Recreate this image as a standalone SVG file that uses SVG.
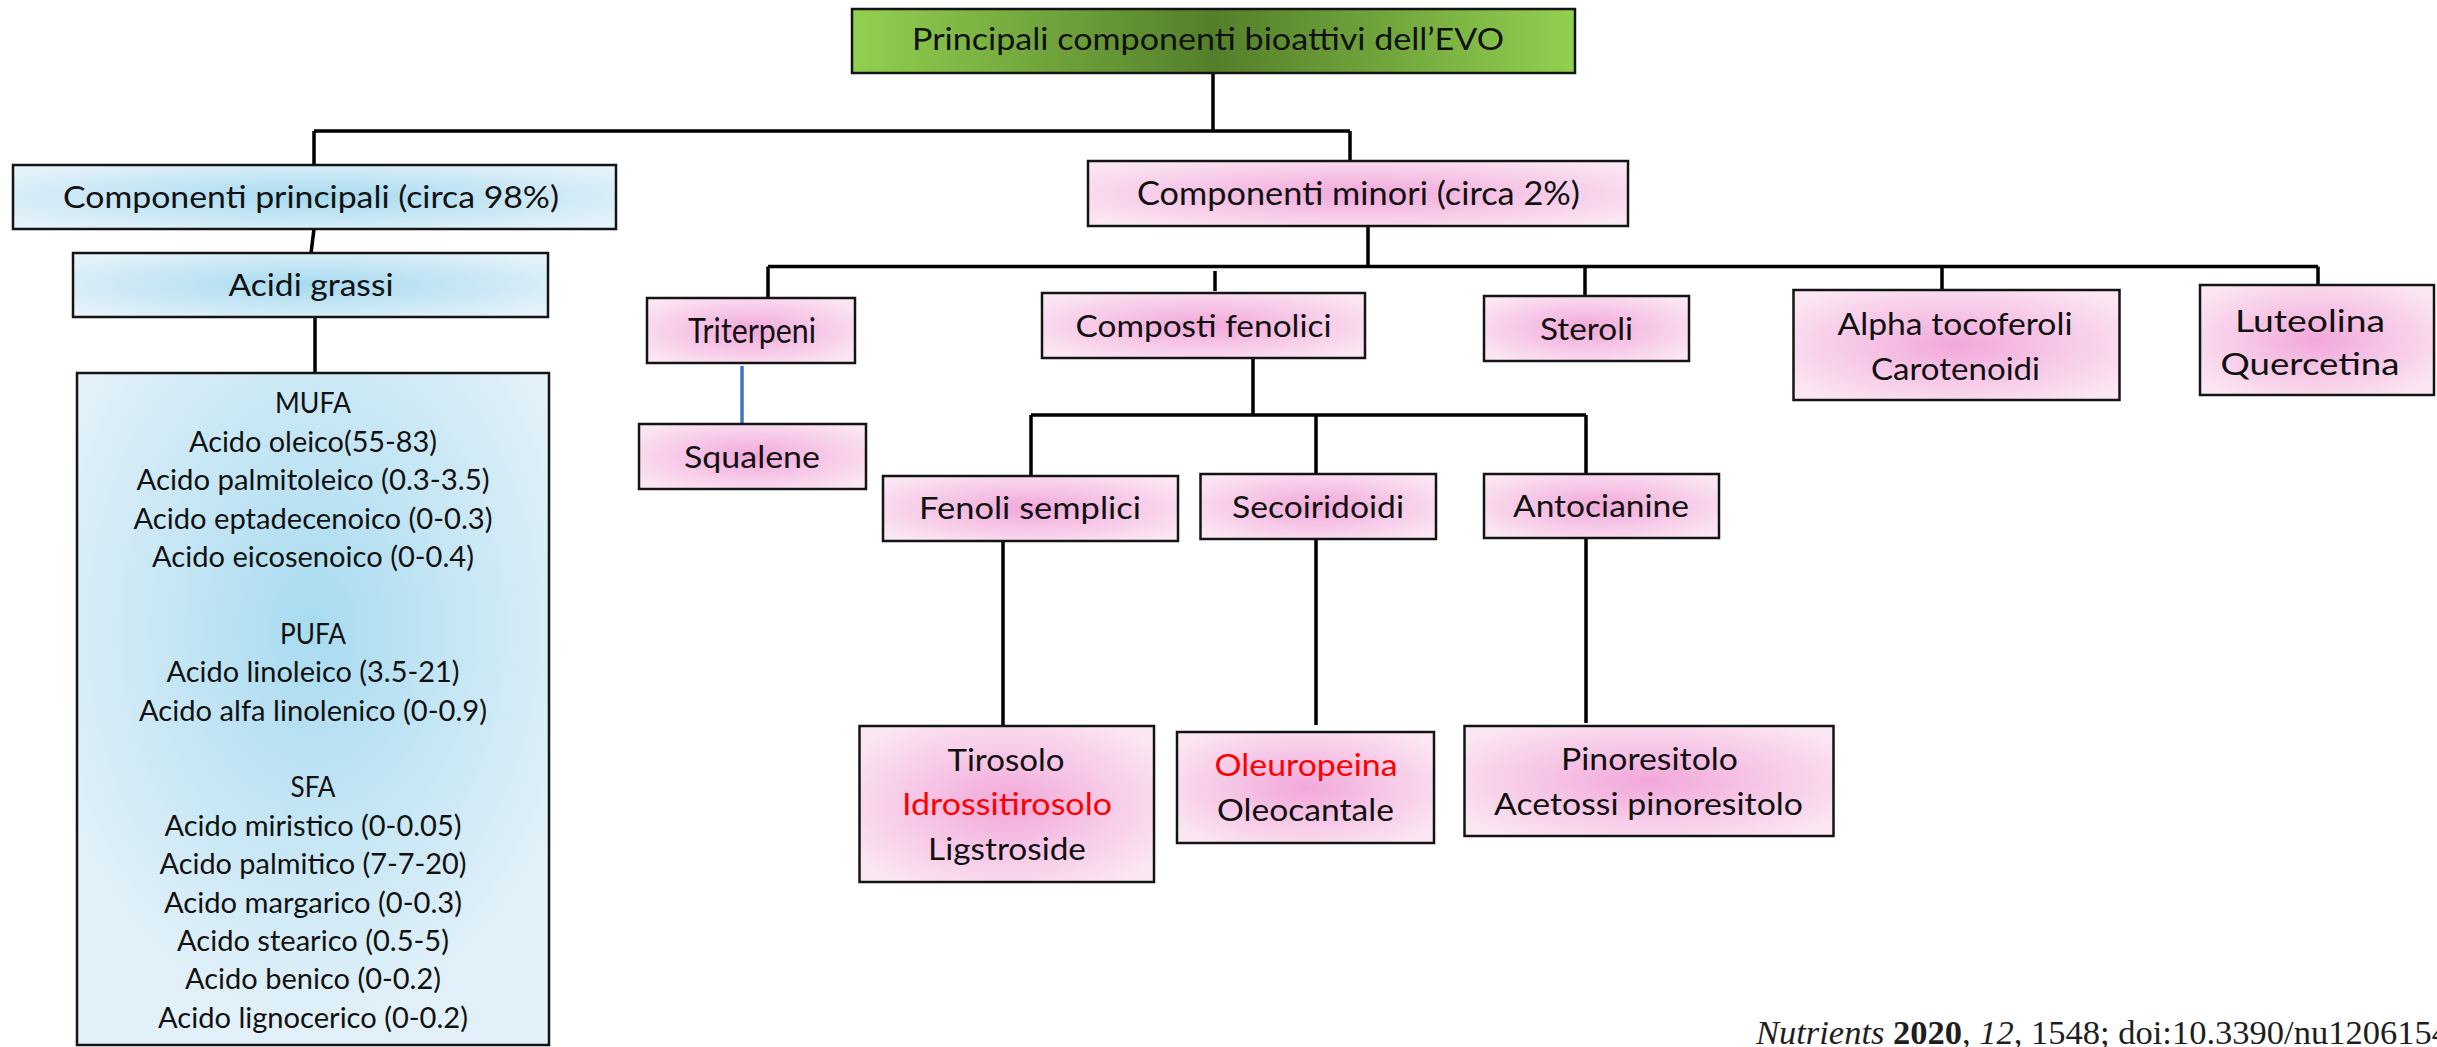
<svg xmlns="http://www.w3.org/2000/svg" width="2437" height="1047" viewBox="0 0 2437 1047">
<style>
.box{stroke:#141414;stroke-width:2.5}
.pk{fill:url(#pinkG)}
.bl{fill:url(#blueG)}
.t{font-family:Lato,"Open Sans","Liberation Sans",sans-serif;fill:#111;text-anchor:middle}
.f30{font-size:30px}
.f31{font-size:31px}
.f32{font-size:32px}
.f34{font-size:34px}
.fb{font-size:28.5px}
.red{fill:#ff0000}
.ln{stroke:#000;stroke-width:3.5;fill:none}
</style>
<defs>
<radialGradient id="pinkG" cx="0.5" cy="0.5" r="0.62">
<stop offset="0" stop-color="#f2a8da"/>
<stop offset="1" stop-color="#fbe6f3"/>
</radialGradient>
<radialGradient id="blueG" cx="0.5" cy="0.5" r="0.62">
<stop offset="0" stop-color="#a6daef"/>
<stop offset="1" stop-color="#e4f2fa"/>
</radialGradient>
<radialGradient id="bigBlue" cx="0.5" cy="0.38" r="0.6">
<stop offset="0" stop-color="#a8dbf0"/>
<stop offset="1" stop-color="#e2f1f9"/>
</radialGradient>
<linearGradient id="greenG" x1="0" y1="0" x2="1" y2="0">
<stop offset="0" stop-color="#92d050"/>
<stop offset="0.5" stop-color="#547f2a"/>
<stop offset="1" stop-color="#92d050"/>
</linearGradient>
</defs>

<g id="connectors">
<path class="ln" d="M1213,73 V131 M314,131 H1350 M314,131 V165 M1350,131 V161"/>
<path class="ln" d="M314,229 L311,253 M315,317 V373"/>
<path class="ln" d="M1368,227 V266.5 M768,266.5 H2318 M768,266.5 V297 M1215,271 V291 M1585,266.5 V295 M1942,266.5 V290 M2318,266.5 V285"/>
<path d="M742,366 V423" stroke="#4472c4" stroke-width="3.5" fill="none"/>
<path class="ln" d="M1253,358 V415 M1031,415 H1586 M1031,415 V476 M1316,415 V474 M1586,415 V474"/>
<path class="ln" d="M1003,541 V726 M1316,539 V725 M1586,538 V723"/>
</g>

<g id="n-title">
<rect class="box" x="852" y="9" width="723" height="64" fill="url(#greenG)"/>
<text class="t f30" x="1208" y="50" textLength="592" lengthAdjust="spacingAndGlyphs">Principali componenti bioattivi dell’EVO</text>
</g>

<g id="n-principali">
<rect class="box bl" x="13" y="165" width="603" height="64"/>
<text class="t f31" x="311" y="208" textLength="496" lengthAdjust="spacingAndGlyphs">Componenti principali (circa 98%)</text>
</g>

<g id="n-acidi">
<rect class="box bl" x="73" y="253" width="475" height="64"/>
<text class="t f31" x="311" y="296" textLength="165" lengthAdjust="spacingAndGlyphs">Acidi grassi</text>
</g>

<g id="n-fa">
<rect class="box" x="77" y="373" width="472" height="672" fill="url(#bigBlue)"/>
<text class="t fb" x="313" y="413" textLength="76" lengthAdjust="spacingAndGlyphs">MUFA</text>
<text class="t fb" x="313" y="452" textLength="248" lengthAdjust="spacingAndGlyphs">Acido oleico(55-83)</text>
<text class="t fb" x="313" y="490" textLength="353" lengthAdjust="spacingAndGlyphs">Acido palmitoleico (0.3-3.5)</text>
<text class="t fb" x="313" y="528.5" textLength="359" lengthAdjust="spacingAndGlyphs">Acido eptadecenoico (0-0.3)</text>
<text class="t fb" x="313" y="567" textLength="322" lengthAdjust="spacingAndGlyphs">Acido eicosenoico (0-0.4)</text>
<text class="t fb" x="313" y="643.7" textLength="66" lengthAdjust="spacingAndGlyphs">PUFA</text>
<text class="t fb" x="313" y="682" textLength="293" lengthAdjust="spacingAndGlyphs">Acido linoleico (3.5-21)</text>
<text class="t fb" x="313" y="720.5" textLength="348" lengthAdjust="spacingAndGlyphs">Acido alfa linolenico (0-0.9)</text>
<text class="t fb" x="313" y="797.3" textLength="45" lengthAdjust="spacingAndGlyphs">SFA</text>
<text class="t fb" x="313" y="835.7" textLength="297" lengthAdjust="spacingAndGlyphs">Acido miristico (0-0.05)</text>
<text class="t fb" x="313" y="874" textLength="307" lengthAdjust="spacingAndGlyphs">Acido palmitico (7-7-20)</text>
<text class="t fb" x="313" y="912.5" textLength="298" lengthAdjust="spacingAndGlyphs">Acido margarico (0-0.3)</text>
<text class="t fb" x="313" y="951" textLength="272" lengthAdjust="spacingAndGlyphs">Acido stearico (0.5-5)</text>
<text class="t fb" x="313" y="989.3" textLength="256" lengthAdjust="spacingAndGlyphs">Acido benico (0-0.2)</text>
<text class="t fb" x="313" y="1027.7" textLength="310" lengthAdjust="spacingAndGlyphs">Acido lignocerico (0-0.2)</text>
</g>

<g id="n-minori">
<rect class="box pk" x="1088" y="161" width="540" height="65"/>
<text class="t f32" x="1358.5" y="205" textLength="443" lengthAdjust="spacingAndGlyphs">Componenti minori (circa 2%)</text>
</g>

<g id="n-triterpeni">
<rect class="box pk" x="647" y="298" width="208" height="65"/>
<text class="t f34" x="752" y="343" textLength="128" lengthAdjust="spacingAndGlyphs">Triterpeni</text>
</g>

<g id="n-squalene">
<rect class="box pk" x="639" y="424" width="227" height="65"/>
<text class="t f30" x="752" y="468" textLength="136" lengthAdjust="spacingAndGlyphs">Squalene</text>
</g>

<g id="n-fenolici">
<rect class="box pk" x="1042" y="293" width="323" height="65"/>
<text class="t f30" x="1203.5" y="337" textLength="256" lengthAdjust="spacingAndGlyphs">Composti fenolici</text>
</g>

<g id="n-steroli">
<rect class="box pk" x="1484" y="296" width="205" height="65"/>
<text class="t f30" x="1586.5" y="340" textLength="93" lengthAdjust="spacingAndGlyphs">Steroli</text>
</g>

<g id="n-alpha">
<rect class="box pk" x="1793.5" y="290" width="326" height="110"/>
<text class="t f30" x="1955" y="335" textLength="235" lengthAdjust="spacingAndGlyphs">Alpha tocoferoli</text>
<text class="t f30" x="1955.5" y="380" textLength="169" lengthAdjust="spacingAndGlyphs">Carotenoidi</text>
</g>

<g id="n-luteolina">
<rect class="box pk" x="2200" y="285" width="234" height="110"/>
<text class="t f30" x="2310" y="331.7" textLength="150" lengthAdjust="spacingAndGlyphs">Luteolina</text>
<text class="t f30" x="2310" y="375" textLength="179" lengthAdjust="spacingAndGlyphs">Quercetina</text>
</g>

<g id="n-fenoli-semplici">
<rect class="box pk" x="883" y="476" width="295" height="65"/>
<text class="t f31" x="1030" y="519" textLength="222" lengthAdjust="spacingAndGlyphs">Fenoli semplici</text>
</g>

<g id="n-secoiridoidi">
<rect class="box pk" x="1200.5" y="474" width="235.5" height="65"/>
<text class="t f31" x="1318" y="518" textLength="172" lengthAdjust="spacingAndGlyphs">Secoiridoidi</text>
</g>

<g id="n-antocianine">
<rect class="box pk" x="1484" y="474" width="235" height="64"/>
<text class="t f31" x="1601" y="517" textLength="176" lengthAdjust="spacingAndGlyphs">Antocianine</text>
</g>

<g id="n-tirosolo">
<rect class="box pk" x="859.5" y="726" width="294.5" height="156"/>
<text class="t f30" x="1006" y="771" textLength="117" lengthAdjust="spacingAndGlyphs">Tirosolo</text>
<text class="t f30 red" x="1007" y="815" textLength="210" lengthAdjust="spacingAndGlyphs">Idrossitirosolo</text>
<text class="t f30" x="1007" y="860" textLength="158" lengthAdjust="spacingAndGlyphs">Ligstroside</text>
</g>

<g id="n-oleuropeina">
<rect class="box pk" x="1177" y="732" width="257" height="111"/>
<text class="t f30 red" x="1306" y="776" textLength="183" lengthAdjust="spacingAndGlyphs">Oleuropeina</text>
<text class="t f30" x="1305.5" y="821" textLength="177" lengthAdjust="spacingAndGlyphs">Oleocantale</text>
</g>

<g id="n-pinoresitolo">
<rect class="box pk" x="1464.5" y="726" width="369" height="110"/>
<text class="t f30" x="1649.5" y="770" textLength="177" lengthAdjust="spacingAndGlyphs">Pinoresitolo</text>
<text class="t f30" x="1648.5" y="815" textLength="309" lengthAdjust="spacingAndGlyphs">Acetossi pinoresitolo</text>
</g>

<g id="citation">
<text x="1756" y="1044" font-family="'Liberation Serif',serif" font-size="34.5" fill="#1e1e1e"><tspan font-style="italic">Nutrients</tspan> <tspan font-weight="bold">2020</tspan>, <tspan font-style="italic">12</tspan>, 1548; doi:10.3390/nu1206154</text>
</g>
</svg>
